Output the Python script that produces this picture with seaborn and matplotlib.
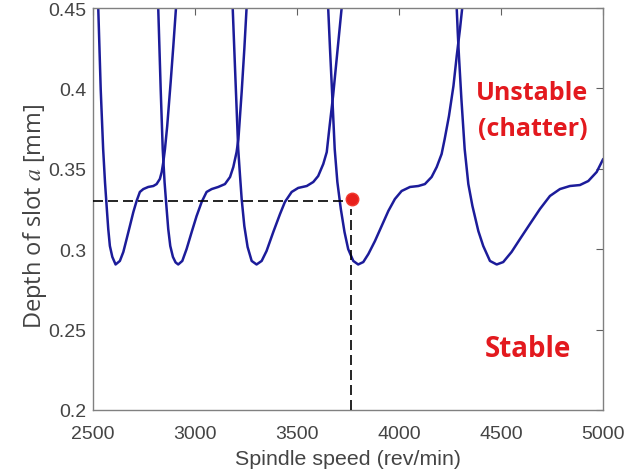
import matplotlib
matplotlib.use("Agg")
import matplotlib.pyplot as plt
import seaborn as sns
import pandas as pd

# ---- data (spindle speed [rev/min], depth [mm]) ----
lobe1_rpm = [2526, 2538, 2550, 2559, 2567, 2575, 2583, 2595, 2611, 2632, 2649, 2665,
             2681, 2698, 2714, 2730, 2747, 2771, 2796, 2812, 2828, 2837, 2845, 2853,
             2864, 2881, 2894, 2907]
lobe1_depth = [0.4500, 0.3996, 0.3623, 0.3418, 0.3269, 0.3126, 0.3020, 0.2952, 0.2905,
               0.2927, 0.2983, 0.3063, 0.3144, 0.3231, 0.3300, 0.3356, 0.3374, 0.3387,
               0.3393, 0.3405, 0.3437, 0.3480, 0.3542, 0.3623, 0.3766, 0.4040, 0.4264,
               0.4500]

lobe2_rpm = [2820, 2832, 2842, 2851, 2860, 2869, 2879, 2892, 2905, 2918, 2938, 2959,
             2984, 3008, 3033, 3057, 3082, 3114, 3147, 3172, 3188, 3204, 3213, 3229,
             3242, 3253]
lobe2_depth = [0.4500, 0.3996, 0.3623, 0.3418, 0.3269, 0.3126, 0.3020, 0.2952, 0.2918,
               0.2905, 0.2927, 0.3001, 0.3107, 0.3206, 0.3294, 0.3356, 0.3374, 0.3387,
               0.3405, 0.3449, 0.3511, 0.3604, 0.3685, 0.3978, 0.4245, 0.4500]

lobe3_rpm = [3185, 3196, 3212, 3221, 3229, 3242, 3258, 3278, 3302, 3327, 3351, 3384,
             3417, 3441, 3474, 3506, 3548, 3580, 3604, 3629, 3646, 3660, 3677, 3697, 3719]
lobe3_depth = [0.4500, 0.4139, 0.3623, 0.3455, 0.3312, 0.3144, 0.3014, 0.2927, 0.2905,
               0.2927, 0.2989, 0.3107, 0.3219, 0.3294, 0.3356, 0.3381, 0.3393, 0.3418,
               0.3455, 0.3530, 0.3604, 0.3766, 0.3953, 0.4214, 0.4500]

lobe4_rpm = [3653, 3662, 3673, 3685, 3698, 3715, 3733, 3751, 3776, 3800, 3825, 3850,
             3882, 3915, 3948, 3980, 4013, 4054, 4095, 4127, 4160, 4185, 4209, 4224,
             4245, 4267, 4283, 4299, 4310]
lobe4_depth = [0.4500, 0.4245, 0.3953, 0.3623, 0.3418, 0.3250, 0.3107, 0.3001, 0.2927,
               0.2905, 0.2920, 0.2970, 0.3050, 0.3144, 0.3238, 0.3312, 0.3362, 0.3387,
               0.3393, 0.3405, 0.3449, 0.3511, 0.3592, 0.3685, 0.3828, 0.4015, 0.4201,
               0.4369, 0.4500]

lobe5_rpm = [4283, 4288, 4294, 4306, 4322, 4340, 4360, 4389, 4413, 4446, 4479, 4511,
             4552, 4593, 4642, 4691, 4740, 4789, 4838, 4887, 4928, 4969, 5001]
lobe5_depth = [0.4500, 0.4351, 0.4201, 0.3934, 0.3623, 0.3405, 0.3269, 0.3113, 0.3020,
               0.2927, 0.2905, 0.2920, 0.2983, 0.3063, 0.3157, 0.3250, 0.3331, 0.3374,
               0.3393, 0.3399, 0.3424, 0.3480, 0.3561]

selected_speed = 3765        # rev/min (vertical dashed line)
selected_depth = 0.33        # mm (horizontal dashed line)
point_speed = 3770
point_depth = 0.331

x_ticks = [2500, 3000, 3500, 4000, 4500, 5000]
x_ticklabels = ["2500", "3000", "3500", "4000", "4500", "5000"]
y_ticks = [0.2, 0.25, 0.3, 0.35, 0.4, 0.45]
y_ticklabels = ["0.2", "0.25", "0.3", "0.35", "0.4", "0.45"]

# ---- build table ----
lobes = [(lobe1_rpm, lobe1_depth), (lobe2_rpm, lobe2_depth), (lobe3_rpm, lobe3_depth),
         (lobe4_rpm, lobe4_depth), (lobe5_rpm, lobe5_depth)]
rows = []
for i, (r, d) in enumerate(lobes):
    for xv, yv in zip(r, d):
        rows.append({"lobe": i, "speed": xv, "depth": yv})
df = pd.DataFrame(rows)

sns.set_style("white")
plt.rcParams["font.family"] = ["Liberation Sans", "DejaVu Sans"]
plt.rcParams["mathtext.fontset"] = "stix"

fig = plt.figure(figsize=(6.41, 4.77), dpi=100)
ax = fig.add_axes([0.145, 0.1384, 0.7957, 0.8427])

sns.lineplot(data=df, x="speed", y="depth", units="lobe", estimator=None, sort=False,
             color="#1c1c9a", linewidth=1.8, ax=ax, legend=False)
for ln in ax.lines:
    ln.set_solid_joinstyle("round")

# dashed guide lines
ax.plot([2500, selected_speed - 15], [selected_depth, selected_depth], color="black",
        linestyle=(0, (6, 3)), linewidth=1.2, zorder=3)
ax.plot([selected_speed, selected_speed], [0.2, selected_depth - 0.005], color="black",
        linestyle=(0, (6, 3)), linewidth=1.2, zorder=3)
ax.plot([point_speed], [point_depth], marker="o", markersize=9, color="#e8201c",
        markeredgecolor="#f03a30", zorder=4)

ax.set_xlim(2500, 5000)
ax.set_ylim(0.2, 0.45)
ax.set_xticks(x_ticks)
ax.set_xticklabels(x_ticklabels)
ax.set_yticks(y_ticks)
ax.set_yticklabels(y_ticklabels)
ax.tick_params(direction="in", length=5, width=0.8, color="#606060",
               top=True, right=True, labelsize=14, labelcolor="#444444")
ax.tick_params(axis="x", pad=11)
ax.tick_params(axis="y", pad=5)
for s in ax.spines.values():
    s.set_color("#808080")
    s.set_linewidth(1.0)

ax.set_xlabel("Spindle speed (rev/min)", fontsize=15.4, color="#444444", labelpad=5)
ax.set_ylabel(r"Depth of slot $a$ [mm]", fontsize=17, color="#444444", labelpad=1,
              family=["Open Sans", "DejaVu Sans"])
ax.yaxis.set_label_coords(-0.087, 0.485)

ax.text(4654, 0.3972, "Unstable", color="#e3191e", fontsize=18,
        fontweight="bold", family="Open Sans", ha="center", va="center")
ax.text(4654, 0.3748, "(chatter)", color="#e3191e", fontsize=18,
        fontweight="bold", family="Open Sans", ha="center", va="center")
ax.text(4632, 0.2385, "Stable", color="#e3191e", fontsize=20,
        fontweight="bold", family="Open Sans", ha="center", va="center")

fig.savefig("out.png", dpi=100, facecolor="white")
